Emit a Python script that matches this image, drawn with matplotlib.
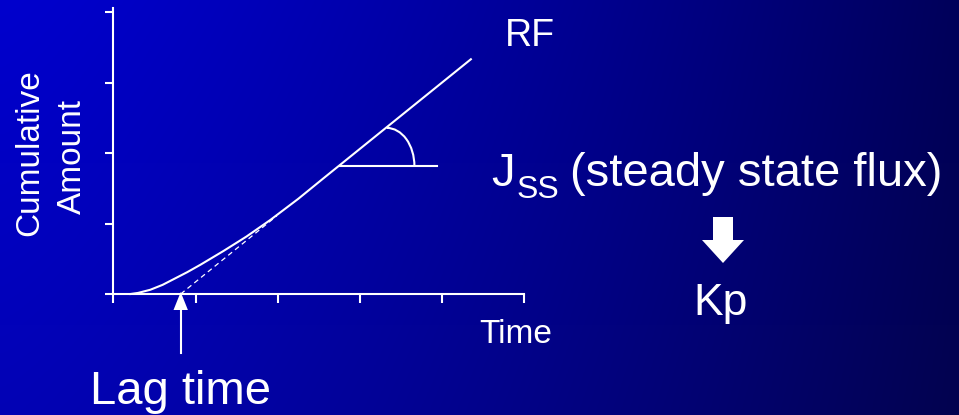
import numpy as np
import matplotlib
matplotlib.use("Agg")
import matplotlib.pyplot as plt
import matplotlib.patches as mpatches
import matplotlib.transforms as mtransforms

plt.rcParams['font.family'] = ['Liberation Sans', 'DejaVu Sans']

# ---- data ----
curve_t = [0.21, 0.30, 0.45, 0.60, 0.75, 0.90, 1.06, 1.34, 1.62, 1.91, 2.25, 2.55, 4.35]
curve_q = [0.00, 0.015, 0.06, 0.13, 0.22, 0.31, 0.415, 0.61, 0.815, 1.05, 1.35, 1.635, 3.33]
tangent_t = [0.82, 1.99]
tangent_q = [0.00, 1.11]
lag_time = 0.82
slope_ref_t = [2.76, 3.94]
slope_ref_q = [1.816, 1.816]
x_ticks = [0, 1, 2, 3, 4, 5]
y_ticks = [0, 1, 2, 3, 4]
y_label_lines = ["Cumulative", "Amount"]
x_label = "Time"
curve_label = "RF"
flux_label = "(steady state flux)"
result_label = "Kp"
lag_label = "Lag time"

W, H = 959, 415
fig = plt.figure(figsize=(W / 100, H / 100), dpi=100)

def fx(px):
    return px / W

def fy(py):
    return 1 - py / H

# ---- background gradient ----
bg = fig.add_axes([0, 0, 1, 1], zorder=-10)
xs = np.linspace(0, 1, 400)
ys = np.linspace(0, 1, 200)
X, Y = np.meshgrid(xs, ys)
blue = 205 - 115 * X ** 1.3
blue = blue * (1 - 0.12 * Y)
img = np.zeros((200, 400, 3))
img[..., 2] = blue / 255
img[..., 0] = 0.01 * Y
img[..., 1] = 0.01 * Y
bg.imshow(img, aspect='auto', extent=[0, 1, 0, 1], origin='upper')
bg.axis('off')

# ---- main axes ----
ax = fig.add_axes([fx(113.3), fy(294), (524.3 - 113.3) / W, (294 - 8) / H])
ax.set_facecolor('none')
ax.set_xlim(0, 5)
ax.set_ylim(0, 4.057)
for s in ['top', 'right']:
    ax.spines[s].set_visible(False)
for s in ['left', 'bottom']:
    ax.spines[s].set_color('white')
    ax.spines[s].set_linewidth(1.5)
ax.set_xticks(x_ticks)
ax.set_yticks(y_ticks)
ax.tick_params(axis='x', direction='out', length=6.5, width=1.5, color='white',
               labelbottom=False)
ax.tick_params(axis='y', direction='out', length=5.8, width=1.5, color='white',
               labelleft=False)

ax.plot(curve_t, curve_q, color='white', lw=1.5, clip_on=False, solid_joinstyle='round')
ax.plot(tangent_t, tangent_q, color='white', lw=0.9, ls=(0, (4, 3)), clip_on=False)
ax.plot(slope_ref_t, slope_ref_q, color='white', lw=1.5, clip_on=False)
arc = mpatches.Arc((3.326, 1.816), 0.674, 1.08, theta1=0, theta2=90,
                   color='white', lw=1.5)
ax.add_patch(arc)

# ---- lag-time arrow ----
tr = mtransforms.blended_transform_factory(ax.transData, fig.transFigure)
hw = 7.2 / 82.2
head = mpatches.Polygon([(lag_time, fy(292)), (lag_time - hw, fy(310)), (lag_time + hw, fy(310))],
                        closed=True, facecolor='white', edgecolor='none', transform=tr,
                        clip_on=False)
fig.patches.append(head)
fig.lines.append(plt.Line2D([lag_time, lag_time], [fy(309), fy(353)], color='white', lw=1.5,
                            transform=tr))

# ---- block arrow toward Kp ----
cx = 723
verts = [(cx - 10, 217), (cx + 10, 217), (cx + 10, 240), (cx + 21, 240), (cx, 263),
         (cx - 21, 240), (cx - 10, 240)]
block = mpatches.Polygon([(fx(a), fy(b)) for a, b in verts], closed=True, facecolor='white',
                         edgecolor='none', transform=fig.transFigure)
fig.patches.append(block)

# ---- texts ----
fig.text(fx(505), fy(46), curve_label, color='white', fontsize=27, va='baseline')
fig.text(fx(491), fy(186), "J", color='white', fontsize=34, va='baseline')
fig.text(fx(517), fy(198), "SS", color='white', fontsize=23, va='baseline')
fig.text(fx(570), fy(186), flux_label, color='white', fontsize=34, va='baseline')
fig.text(fx(693), fy(315), result_label, color='white', fontsize=32, va='baseline')
fig.text(fx(479), fy(343), x_label, color='white', fontsize=24, va='baseline')
fig.text(fx(90), fy(404), lag_label, color='white', fontsize=34, va='baseline')
fig.text(fx(30), fy(152.5), y_label_lines[0], color='white', fontsize=24, rotation=90,
         ha='center', va='center')
fig.text(fx(72.5), fy(156), y_label_lines[1], color='white', fontsize=24, rotation=90,
         ha='center', va='center')

fig.savefig('out.png', dpi=100)
